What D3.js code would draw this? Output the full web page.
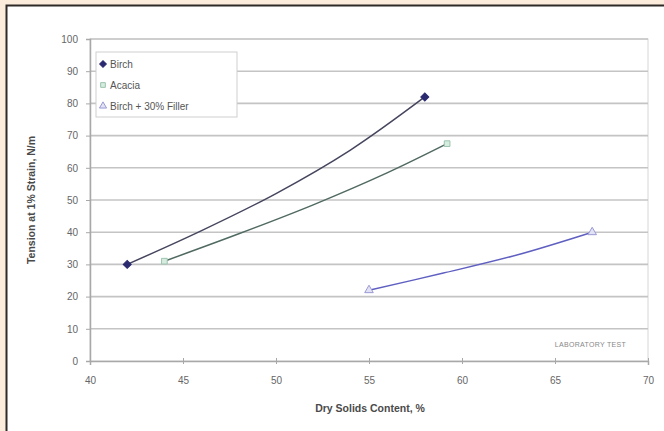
<!DOCTYPE html>
<html>
<head>
<meta charset="utf-8">
<script src="https://cdn.jsdelivr.net/npm/d3@7"></script>
<style>
  html, body { margin: 0; padding: 0; background: #fcecdc; }
  svg { display: block; }
  text { font-family: "Liberation Sans", Arial, sans-serif; }
</style>
</head>
<body>
<svg id="chart" width="664" height="431"></svg>
<script>
// Dry solids content (%) vs tension at 1% strain (N/m)
const seriesNames = ["Birch", "Acacia", "Birch + 30% Filler"];
const birchX  = [42, 46, 50, 54, 58];
const birchY  = [30, 40.5, 52, 65.5, 82];
const acaciaX = [44, 48, 52, 56, 59.2];
const acaciaY = [31, 39.5, 48.5, 58.5, 67.5];
const fillerX = [55, 59, 63, 67];
const fillerY = [22, 27.3, 33, 40];
const xTicks = [40, 45, 50, 55, 60, 65, 70];
const yTicks = [0, 10, 20, 30, 40, 50, 60, 70, 80, 90, 100];
const xTitle = "Dry Solids Content, %";
const yTitle = "Tension at 1% Strain, N/m";
const note = "LABORATORY TEST";

const series = [
  { name: seriesNames[0], xs: birchX,  ys: birchY,  line: "#45455e", marker: "diamond",  fill: "#2b2a70", stroke: "#2b2a70" },
  { name: seriesNames[1], xs: acaciaX, ys: acaciaY, line: "#506a62", marker: "square",   fill: "#d6ecdf", stroke: "#9cc4ae" },
  { name: seriesNames[2], xs: fillerX, ys: fillerY, line: "#5f5fc2", marker: "triangle", fill: "#e2e2f4", stroke: "#9a9ad4" }
];

const svg = d3.select("#chart");

// white panel with dark frame
svg.append("rect")
  .attr("x", 6.5).attr("y", 5.5).attr("width", 700).attr("height", 500)
  .attr("fill", "#ffffff").attr("stroke", "#2e2a28").attr("stroke-width", 2);

const x = d3.scaleLinear().domain([40, 70]).range([90, 648]);
const y = d3.scaleLinear().domain([0, 100]).range([361, 39]);

// plot area outline
svg.append("rect")
  .attr("x", x(40)).attr("y", y(100))
  .attr("width", x(70) - x(40)).attr("height", y(0) - y(100))
  .attr("fill", "none").attr("stroke", "#d6d6d6").attr("stroke-width", 1);

// horizontal gridlines
svg.append("g").selectAll("line")
  .data(yTicks.filter(v => v > 0))
  .join("line")
  .attr("x1", x(40)).attr("x2", x(70))
  .attr("y1", d => y(d)).attr("y2", d => y(d))
  .attr("stroke", "#c4c4c4").attr("stroke-width", 1.6);

// axes
const yAxis = svg.append("g")
  .attr("transform", `translate(${x(40)},0)`)
  .call(d3.axisLeft(y).tickValues(yTicks).tickSize(4).tickPadding(8));
const xAxis = svg.append("g")
  .attr("transform", `translate(0,${y(0)})`)
  .call(d3.axisBottom(x).tickValues(xTicks).tickSize(4).tickPadding(12));
[xAxis, yAxis].forEach(g => {
  g.select(".domain").attr("stroke", "#a8a8a8").attr("stroke-width", 1.5);
  g.selectAll(".tick line").attr("stroke", "#a8a8a8");
  g.selectAll(".tick text").attr("fill", "#666").attr("font-size", 10);
});
xAxis.selectAll(".tick line").attr("y1", -3).attr("y2", 3);

// axis titles
svg.append("text")
  .attr("x", (x(40) + x(70)) / 2 + 1).attr("y", 412)
  .attr("text-anchor", "middle").attr("font-size", 10.5).attr("font-weight", "bold")
  .attr("fill", "#4a4a4a").text(xTitle);
svg.append("text")
  .attr("transform", `translate(35,${(y(0) + y(100)) / 2}) rotate(-90)`)
  .attr("text-anchor", "middle").attr("font-size", 10.5).attr("font-weight", "bold")
  .attr("fill", "#4a4a4a").text(yTitle);

// note
svg.append("text")
  .attr("x", 626).attr("y", 347).attr("text-anchor", "end")
  .attr("font-size", 7).attr("fill", "#888").attr("letter-spacing", 0.3).text(note);

// markers
const symbolType = { diamond: d3.symbolSquare, square: d3.symbolSquare, triangle: d3.symbolTriangle };
function marker(g, s, cx, cy, size) {
  const p = g.append("path")
    .attr("d", d3.symbol().type(symbolType[s.marker]).size(size)())
    .attr("fill", s.fill).attr("stroke", s.stroke).attr("stroke-width", 1);
  let t = `translate(${cx},${cy})`;
  if (s.marker === "diamond") t += " rotate(45)";
  p.attr("transform", t);
}

// smoothed curves with end markers
const line = d3.line().x(d => x(d[0])).y(d => y(d[1])).curve(d3.curveCatmullRom.alpha(0.5));
series.forEach(s => {
  const pts = s.xs.map((v, i) => [v, s.ys[i]]);
  svg.append("path").datum(pts)
    .attr("d", line)
    .attr("fill", "none").attr("stroke", s.line).attr("stroke-width", 1.5);
  const g = svg.append("g");
  [pts[0], pts[pts.length - 1]].forEach(p => marker(g, s, x(p[0]), y(p[1]), 32));
});

// legend
const lg = svg.append("g").attr("transform", "translate(96,52)");
lg.append("rect").attr("width", 141).attr("height", 65)
  .attr("fill", "#fff").attr("stroke", "#cfcfcf").attr("stroke-width", 1);
series.forEach((s, i) => {
  const cy = 12 + i * 21;
  marker(lg, s, 7, cy, 22);
  lg.append("text").attr("x", 14).attr("y", cy + 3.5)
    .attr("font-size", 10).attr("fill", "#555").text(s.name);
});
</script>
</body>
</html>
